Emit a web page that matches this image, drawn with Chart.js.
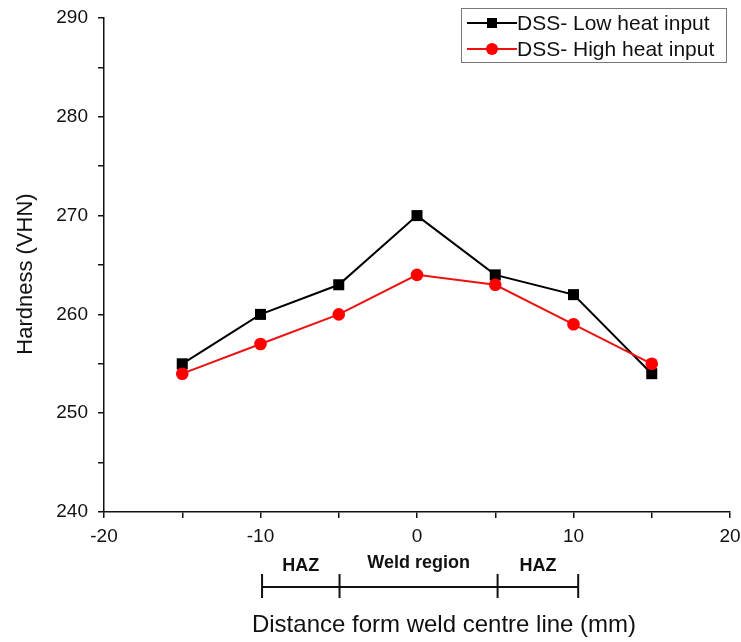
<!DOCTYPE html>
<html>
<head>
<meta charset="utf-8">
<script src="https://cdn.jsdelivr.net/npm/chart.js@4/dist/chart.umd.min.js"></script>
<style>
  html, body { margin: 0; padding: 0; background: #fff; }
  canvas { display: block; }
</style>
</head>
<body>
<canvas id="c" width="741" height="642"></canvas>
<script>
// Hardness profile across the weld
const distances = [-15, -10, -5, 0, 5, 10, 15];
const lowHeatInput = [255, 260, 263, 270, 264, 262, 254];
const highHeatInput = [254, 257, 260, 264, 263, 259, 255];
const seriesNames = ['DSS- Low heat input', 'DSS- High heat input'];
const yAxisTitle = 'Hardness (VHN)';
const xAxisTitle = 'Distance form weld centre line (mm)';

// Zones marked below the distance axis
const zoneNames = ['HAZ', 'Weld region', 'HAZ'];
const zoneEdges = [-9.9, -4.95, 5.15, 10.3];

const FONT = '"Liberation Sans", Arial, sans-serif';

function toPoints(xs, ys) {
  return xs.map((x, i) => ({ x: x, y: ys[i] }));
}

// Boxed legend with line + marker samples
const boxedLegend = {
  id: 'boxedLegend',
  afterDraw(chart) {
    const ctx = chart.ctx;
    const x0 = 461, y0 = 8, w = 265, h = 54;
    ctx.save();
    ctx.strokeStyle = '#777';
    ctx.lineWidth = 1;
    ctx.strokeRect(x0 + 0.5, y0 + 0.5, w, h);
    const ds = [chart.data.datasets[0], chart.data.datasets[1]];
    ds.forEach((d, i) => {
      const cy = y0 + 15 + i * 26;
      ctx.strokeStyle = d.borderColor;
      ctx.lineWidth = 1.8;
      ctx.beginPath();
      ctx.moveTo(x0 + 6, cy);
      ctx.lineTo(x0 + 56, cy);
      ctx.stroke();
      ctx.fillStyle = d.pointBackgroundColor;
      const mx = x0 + 31;
      if (d.pointStyle === 'rect') {
        ctx.fillRect(mx - 5, cy - 5, 10, 10);
      } else {
        ctx.beginPath();
        ctx.arc(mx, cy, 6, 0, Math.PI * 2);
        ctx.fill();
      }
      ctx.fillStyle = '#111';
      ctx.font = '21px ' + FONT;
      ctx.textBaseline = 'middle';
      ctx.textAlign = 'left';
      ctx.fillText(d.label, x0 + 56, cy + 1);
    });
    ctx.restore();
  }
};

// Axis titles
const axisTitles = {
  id: 'axisTitles',
  afterDraw(chart) {
    const ctx = chart.ctx;
    const area = chart.chartArea;
    ctx.save();
    ctx.fillStyle = '#111';
    ctx.textAlign = 'center';
    ctx.textBaseline = 'middle';
    ctx.font = '24px ' + FONT;
    ctx.fillText(xAxisTitle, 444, 625);
    ctx.translate(26, (area.top + area.bottom) / 2 + 9);
    ctx.rotate(-Math.PI / 2);
    ctx.font = '22px ' + FONT;
    ctx.fillText(yAxisTitle, 0, 0);
    ctx.restore();
  }
};

// Zone brackets (HAZ / Weld region) under the axis
const zoneBrackets = {
  id: 'zoneBrackets',
  afterDraw(chart) {
    const ctx = chart.ctx;
    const xs = chart.scales.x;
    const px = zoneEdges.map(v => xs.getPixelForValue(v));
    const lineY = 587;
    ctx.save();
    ctx.strokeStyle = '#111';
    ctx.lineWidth = 2;
    ctx.beginPath();
    ctx.moveTo(px[0], lineY);
    ctx.lineTo(px[px.length - 1], lineY);
    px.forEach(p => {
      ctx.moveTo(p, lineY - 13);
      ctx.lineTo(p, lineY + 11);
    });
    ctx.stroke();
    ctx.fillStyle = '#111';
    ctx.font = 'bold 18px ' + FONT;
    ctx.textAlign = 'center';
    ctx.textBaseline = 'middle';
    zoneNames.forEach((name, i) => {
      const cx = (px[i] + px[i + 1]) / 2;
      ctx.fillText(name, cx, name === 'HAZ' ? 566 : 563);
    });
    ctx.restore();
  }
};

new Chart(document.getElementById('c'), {
  type: 'line',
  data: {
    datasets: [
      {
        label: seriesNames[0],
        data: toPoints(distances, lowHeatInput),
        borderColor: '#000000',
        backgroundColor: '#000000',
        pointBackgroundColor: '#000000',
        pointBorderColor: '#000000',
        pointStyle: 'rect',
        pointRadius: 7.8,
        pointBorderWidth: 0,
        borderWidth: 2,
        tension: 0,
        order: 1
      },
      {
        label: seriesNames[1],
        data: toPoints(distances, highHeatInput),
        borderColor: '#ee1111',
        backgroundColor: '#ff0000',
        pointBackgroundColor: '#ff0000',
        pointBorderColor: '#ff0000',
        pointStyle: 'circle',
        pointRadius: 6.3,
        pointBorderWidth: 0,
        borderWidth: 2,
        tension: 0,
        order: 0
      }
    ]
  },
  options: {
    responsive: false,
    devicePixelRatio: 1,
    animation: false,
    layout: { padding: { top: 18, right: 11, left: 0, bottom: 0 } },
    plugins: {
      legend: { display: false },
      tooltip: { enabled: false }
    },
    scales: {
      x: {
        type: 'linear',
        min: -20,
        max: 20,
        afterFit(scale) {
          scale.height = 130;
          scale.paddingLeft = 0;
          scale.paddingRight = 0;
        },
        border: { display: true, color: '#111', width: 1.5 },
        grid: { display: true, drawOnChartArea: false, drawTicks: true, tickLength: 6, color: '#111', lineWidth: 1.5 },
        ticks: {
          stepSize: 5,
          autoSkip: false,
          maxRotation: 0,
          padding: 7,
          color: '#111',
          font: { family: FONT, size: 19 },
          callback: v => (v % 10 === 0 ? String(v) : '')
        },
        title: { display: false }
      },
      y: {
        type: 'linear',
        min: 240,
        max: 290,
        afterFit(scale) {
          scale.width = 104;
          scale.paddingTop = 0;
          scale.paddingBottom = 0;
        },
        border: { display: true, color: '#111', width: 1.5 },
        grid: { display: true, drawOnChartArea: false, drawTicks: true, tickLength: 6, color: '#111', lineWidth: 1.5 },
        ticks: {
          stepSize: 5,
          autoSkip: false,
          padding: 10,
          color: '#111',
          font: { family: FONT, size: 19 },
          callback: v => (v % 10 === 0 ? String(v) : '')
        },
        title: { display: false }
      }
    }
  },
  plugins: [boxedLegend, axisTitles, zoneBrackets]
});
</script>
</body>
</html>
